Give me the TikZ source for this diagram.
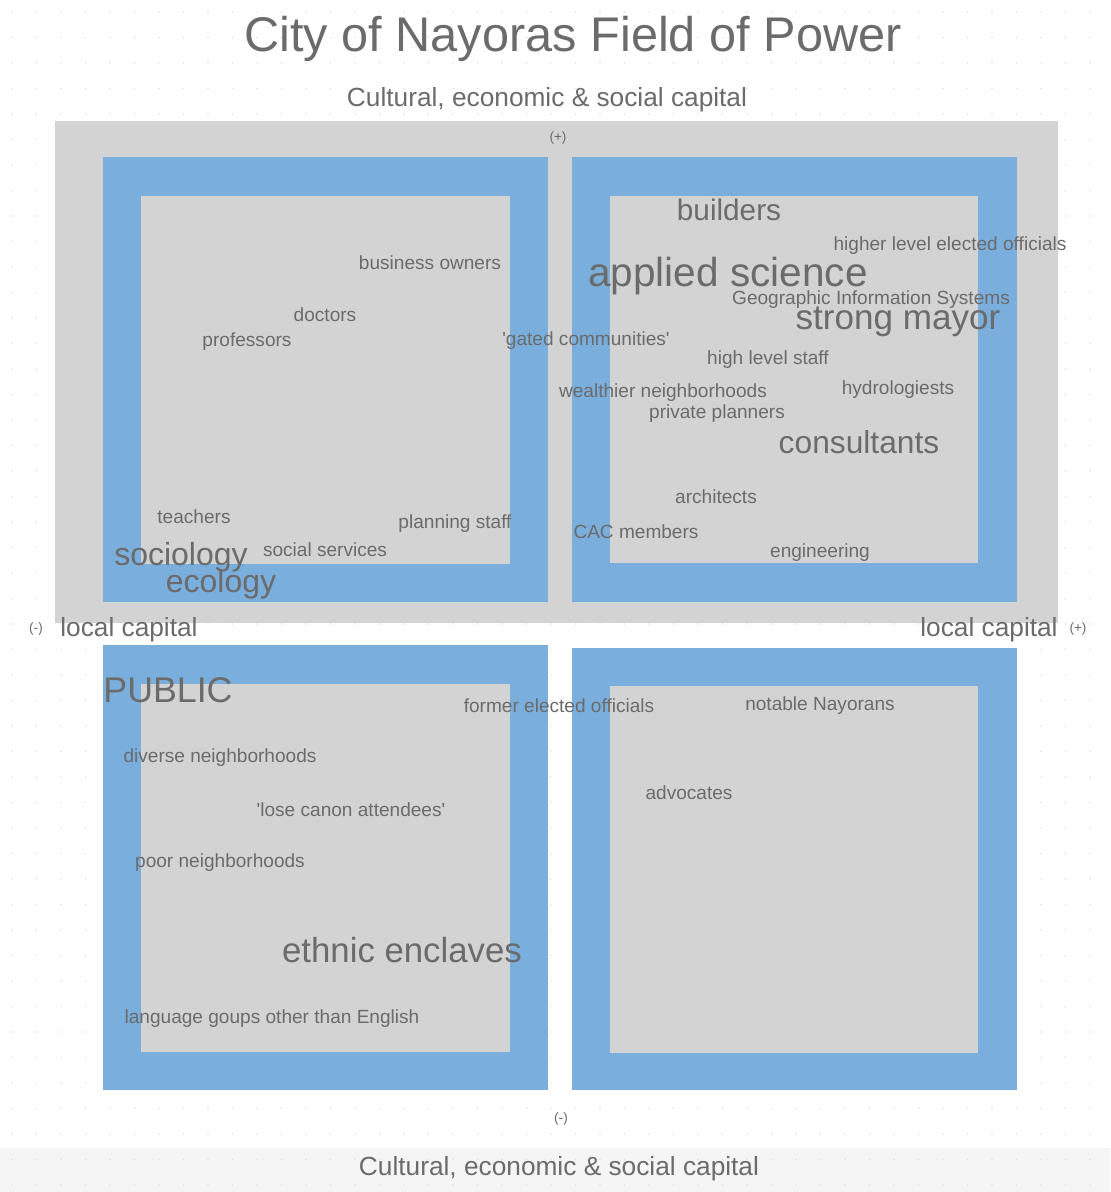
\documentclass[tikz,border=0pt]{standalone}
\usepackage{fontspec}
\setmainfont{Liberation Sans}
\definecolor{boxblue}{HTML}{7AAEDC}
\definecolor{fieldgray}{HTML}{D3D3D3}
\definecolor{txt}{HTML}{6B6B6B}
\definecolor{dotc}{HTML}{E2E2E2}
\definecolor{band}{HTML}{F5F5F5}
\tikzset{
  fs/.style={font=\fontsize{#1}{#1}\selectfont},
  word/.style={text=txt, inner sep=0pt, anchor=center},
}
\begin{document}
\begin{tikzpicture}[x=0.75pt,y=-0.75pt]
\fill[white] (0,0) rectangle (1110,1192);
\useasboundingbox (0,0) rectangle (1110,1192);
\fill[band] (0,1148) rectangle (1110,1192);
% faint dot grid
\foreach \i in {0,...,45} {
  \foreach \j in {0,...,46} {
    \fill[dotc] (12+\i*24.5,12+\j*25.5) circle (0.9);
  }
}
% field
\fill[fieldgray] (55,121) rectangle (1058,623);
% frames
\fill[boxblue] (103,157) rectangle (548,602);
\fill[fieldgray] (141,196) rectangle (510,564);
\fill[boxblue] (572,157) rectangle (1017,602);
\fill[fieldgray] (610,196) rectangle (978,563);
\fill[boxblue] (103,645) rectangle (548,1090);
\fill[fieldgray] (141,684) rectangle (510,1052);
\fill[boxblue] (572,648) rectangle (1017,1090);
\fill[fieldgray] (610,686) rectangle (978,1053);
% axis labels
\node[word, fs=36.5] (title) at (573,39) {City of Nayoras Field of Power};
\node[word, fs=19.7] (captop) at (547,100) {Cultural, economic \& social capital};
\node[word, fs=19.7] (capbot) at (559,1169) {Cultural, economic \& social capital};
\node[word, fs=10.2] (plustop) at (558,138) {(+)};
\node[word, fs=10.2] (minusbot) at (561,1119) {(-)};
\node[word, fs=10.2] (minusleft) at (36,629) {(-)};
\node[word, fs=19.7] (locleft) at (129,630) {local capital};
\node[word, fs=19.7] (locright) at (989,630) {local capital};
\node[word, fs=10.2] (plusright) at (1078,629) {(+)};
% words top-left
\node[word, fs=14.3] (busown) at (430,263) {business owners};
\node[word, fs=14.3] (doctors) at (325,315) {doctors};
\node[word, fs=14.3] (profs) at (247,342) {professors};
\node[word, fs=14.3] (gated) at (586,341) {\textquotesingle gated communities\textquotesingle};
\node[word, fs=14.3] (teachers) at (194,517) {teachers};
\node[word, fs=14.3] (planstaff) at (455,524) {planning staff};
\node[word, fs=14.3] (socserv) at (325,550) {social services};
\node[word, fs=24] (sociology) at (181,557) {sociology};
\node[word, fs=24] (ecology) at (221,584) {ecology};
% words top-right
\node[word, fs=22.3] (builders) at (729,210) {builders};
\node[word, fs=14.3] (higher) at (950,246) {higher level elected officials};
\node[word, fs=30.4] (applied) at (728,276) {applied science};
\node[word, fs=14.3] (gis) at (871,300) {Geographic Information Systems};
\node[word, fs=26.3] (mayor) at (898,322) {strong mayor};
\node[word, fs=14.3] (hls) at (768,360) {high level staff};
\node[word, fs=14.3] (hydro) at (898,390) {hydrologiests};
\node[word, fs=14.3] (wealth) at (663,393) {wealthier neighborhoods};
\node[word, fs=14.3] (privpl) at (717,414) {private planners};
\node[word, fs=23.8] (consult) at (859,442) {consultants};
\node[word, fs=14.3] (archi) at (716,497) {architects};
\node[word, fs=14.3] (cac) at (636,532) {CAC members};
\node[word, fs=14.3] (engin) at (820,553) {engineering};
% words bottom
\node[word, fs=26.8] (public) at (168,690) {PUBLIC};
\node[word, fs=14.3] (former) at (559,706) {former elected officials};
\node[word, fs=14.3] (notable) at (820,706) {notable Nayorans};
\node[word, fs=14.3] (diverse) at (220,758) {diverse neighborhoods};
\node[word, fs=14.3] (loose) at (351,810) {\textquotesingle lose canon attendees\textquotesingle};
\node[word, fs=14.3] (advoc) at (689,793) {advocates};
\node[word, fs=14.3] (poor) at (220,863) {poor neighborhoods};
\node[word, fs=26.1] (ethnic) at (402,950) {ethnic enclaves};
\node[word, fs=14.3] (lang) at (272,1019) {language goups other than English};
\end{tikzpicture}
\end{document}
